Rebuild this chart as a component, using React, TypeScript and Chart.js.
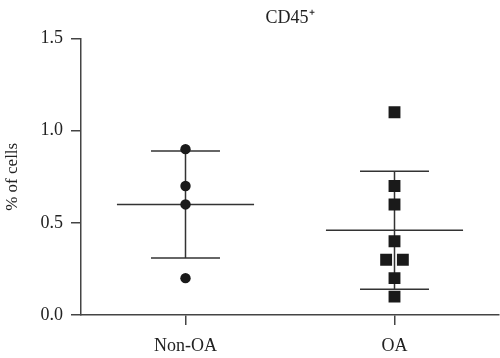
import React, { useEffect, useRef } from 'react';
import { Chart, registerables } from 'chart.js';

Chart.register(...registerables);

const categories = ['Non-OA', 'OA'];
const nonOAValues = [0.9, 0.7, 0.6, 0.2];
const oaValues = [1.1, 0.7, 0.6, 0.4, 0.3, 0.3, 0.2, 0.1];
// horizontal jitter (category units) for overlapping OA points
const oaJitter = [0, 0, 0, 0, -0.04, 0.04, 0, 0];
const groupMeans = [0.6, 0.46];
const groupSDs = [0.29, 0.32];
const yTicks = [0, 0.5, 1.0, 1.5];

const FONT = "'Liberation Serif', 'Times New Roman', serif";
const LINE = '#333333';
const MARK = '#1a1a1a';

function errorDatasets(i: number) {
  const cx = i + 0.5;
  const m = groupMeans[i];
  const s = groupSDs[i];
  const base = {
    type: 'line' as const,
    showLine: true,
    pointRadius: 0,
    borderColor: LINE,
    borderWidth: 1.5,
    fill: false,
  };
  return [
    { ...base, data: [{ x: cx - 0.328, y: m }, { x: cx + 0.328, y: m }] },
    { ...base, data: [{ x: cx - 0.165, y: m + s }, { x: cx + 0.165, y: m + s }] },
    { ...base, data: [{ x: cx - 0.165, y: m - s }, { x: cx + 0.165, y: m - s }] },
    { ...base, data: [{ x: cx, y: m - s }, { x: cx, y: m + s }] },
  ];
}

export default function App() {
  const ref = useRef<HTMLCanvasElement>(null);

  useEffect(() => {
    document.body.style.margin = '0';
    const canvas = ref.current!;
    const chart = new Chart(canvas, {
      type: 'scatter',
      data: {
        datasets: [
          {
            data: nonOAValues.map((v) => ({ x: 0.5, y: v })),
            pointStyle: 'circle',
            pointRadius: 5.2,
            backgroundColor: MARK,
            borderColor: MARK,
            borderWidth: 0,
          },
          {
            data: oaValues.map((v, k) => ({ x: 1.5 + oaJitter[k], y: v })),
            pointStyle: 'rect',
            pointRadius: 8.4,
            backgroundColor: MARK,
            borderColor: MARK,
            borderWidth: 0,
          },
          ...errorDatasets(0),
          ...errorDatasets(1),
        ] as any,
      },
      options: {
        responsive: false,
        animation: false,
        layout: { autoPadding: false, padding: { left: 0, right: 1, top: 0, bottom: 0 } },
        plugins: {
          legend: { display: false },
          tooltip: { enabled: false },
          title: {
            display: true,
            text: 'CD45⁺',
            fullSize: false,
            color: '#222',
            font: { family: FONT, size: 18, weight: 'normal' },
            padding: { top: 7, bottom: 10 },
          },
        },
        scales: {
          x: {
            type: 'linear',
            min: 0,
            max: 2,
            afterBuildTicks: (scale: any) => {
              scale.ticks = categories.map((_, i) => ({ value: i + 0.5 }));
            },
            afterFit: (scale: any) => {
              scale.height = 43;
              scale.paddingLeft = 0;
              scale.paddingRight = 0;
            },
            ticks: {
              autoSkip: false,
              maxRotation: 0,
              padding: 10,
              color: '#222',
              font: { family: FONT, size: 18 },
              callback: (v: any) => categories[Math.round(Number(v) - 0.5)] ?? '',
            },
            grid: {
              drawOnChartArea: false,
              drawTicks: true,
              tickLength: 10,
              color: '#444',
              lineWidth: 1.5,
            },
            border: { display: true, color: '#444', width: 1.5 },
          },
          y: {
            type: 'linear',
            min: 0,
            max: 1.5,
            afterBuildTicks: (scale: any) => {
              scale.ticks = yTicks.map((v) => ({ value: v }));
            },
            afterFit: (scale: any) => {
              scale.width = 81;
            },
            ticks: {
              padding: 8,
              color: '#222',
              font: { family: FONT, size: 18 },
              callback: (v: any) => Number(v).toFixed(1),
            },
            grid: {
              drawOnChartArea: false,
              drawTicks: true,
              tickLength: 10,
              color: '#444',
              lineWidth: 1.5,
            },
            border: { display: true, color: '#444', width: 1.5 },
            title: {
              display: true,
              text: '% of cells',
              color: '#222',
              font: { family: FONT, size: 17 },
              padding: { top: 2, bottom: 4 },
            },
          },
        },
      },
    });
    return () => chart.destroy();
  }, []);

  return (
    <div style={{ width: 500, height: 358 }}>
      <canvas ref={ref} width={500} height={358} />
    </div>
  );
}
